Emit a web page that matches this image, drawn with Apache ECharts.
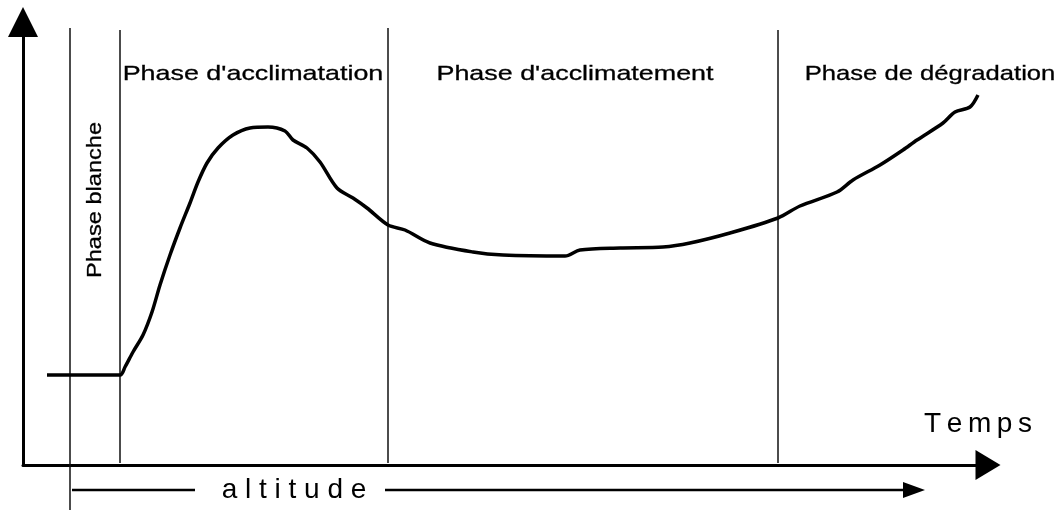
<!DOCTYPE html>
<html>
<head>
<meta charset="utf-8">
<script src="https://cdn.jsdelivr.net/npm/echarts@6/dist/echarts.min.js"></script>
<style>
  html, body { margin: 0; padding: 0; background: #fff; }
  #main { width: 1062px; height: 514px; }
</style>
</head>
<body>
<div id="main"></div>
<script>
var myChart = echarts.init(document.getElementById('main'));

// curve (temps, reponse) in schematic units
var curveX = [24, 97, 102, 110, 120, 129, 137, 147, 157, 167, 175, 184, 195, 210, 227, 245, 262, 270, 284, 297, 314, 330, 344, 365,
  382, 407, 450, 480, 542, 557, 597, 640, 667, 707, 755, 777, 814, 830, 857, 880, 894, 920, 932, 947, 955];
var curveY = [90, 90, 98, 113, 130, 153, 180, 210, 237, 262, 283, 302, 317, 330, 337, 338, 334, 325, 317, 303, 277, 267, 257, 240,
  235, 222, 213, 210, 209, 215, 217, 218, 222, 232, 247, 259, 273, 285, 300, 315, 325, 342, 353, 358, 370];

// phase boundaries on the time axis
var phaseBounds = [47, 97, 365, 755];
var phaseTop = [437, 435, 437, 435];
var phaseBottom = [-45, 2, 2, 2];
var phaseNames = ["Phase blanche", "Phase d'acclimatation", "Phase d'acclimatement", "Phase de dégradation"];

// altitude arrow under the time axis
var altitudeLevel = -25;
var altitudeFrom = [49, 362];
var altitudeTo = [172, 902];

var curve = curveX.map(function (x, i) { return [x, curveY[i]]; });

var guides = [];
phaseBounds.forEach(function (x, i) {
  guides.push([x, phaseTop[i], x, phaseBottom[i], 0]);
});
altitudeFrom.forEach(function (x, i) {
  guides.push([x, altitudeLevel, altitudeTo[i], altitudeLevel, i === altitudeFrom.length - 1 ? 2 : 1]);
});

function renderGuide(params, api) {
  var kind = api.value(4);
  var p1 = api.coord([api.value(0), api.value(1)]);
  var p2 = api.coord([api.value(2), api.value(3)]);
  var children = [];
  var end = p2.slice();
  if (kind === 2) end[0] = p2[0] - 18;
  children.push({
    type: 'line',
    shape: { x1: p1[0], y1: p1[1], x2: end[0], y2: end[1] },
    style: { stroke: kind === 0 ? '#111' : '#000', lineWidth: kind === 0 ? 1.5 : 2.5 }
  });
  if (kind === 2) {
    children.push({
      type: 'polygon',
      shape: { points: [[p2[0], p2[1]], [p2[0] - 22, p2[1] - 8], [p2[0] - 22, p2[1] + 8]] },
      style: { fill: '#000' }
    });
  }
  return { type: 'group', children: children };
}

var option = {
  backgroundColor: '#fff',
  animation: false,
  grid: { left: 23, right: 74, top: 22, bottom: 49 },
  xAxis: {
    type: 'value', min: 0, max: 965,
    axisLine: { show: true, symbol: ['none', 'triangle'], symbolSize: [30, 25], lineStyle: { color: '#000', width: 3 } },
    axisTick: { show: false }, axisLabel: { show: false }, splitLine: { show: false }
  },
  yAxis: {
    type: 'value', min: 0, max: 443,
    axisLine: { show: true, symbol: ['none', 'triangle'], symbolSize: [30, 30], lineStyle: { color: '#000', width: 3 } },
    axisTick: { show: false }, axisLabel: { show: false }, splitLine: { show: false }
  },
  series: [
    {
      type: 'custom',
      data: guides,
      renderItem: renderGuide,
      clip: false,
      silent: true,
      z: 1
    },
    {
      type: 'line',
      data: curve,
      showSymbol: false,
      smooth: 0.3,
      clip: false,
      z: 2,
      lineStyle: { color: '#000', width: 3.5 }
    }
  ],
  graphic: [
    { type: 'text', x: 95, y: 200, rotation: Math.PI / 2, scaleX: 1.18,
      style: { text: phaseNames[0], font: '20px "Liberation Sans", Arial', fill: '#000', stroke: '#000', lineWidth: 0.3, align: 'center', verticalAlign: 'middle' } },
    { type: 'text', x: 253, y: 74, scaleX: 1.28,
      style: { text: phaseNames[1], font: '21px "Liberation Sans", Arial', fill: '#000', stroke: '#000', lineWidth: 0.3, align: 'center', verticalAlign: 'middle' } },
    { type: 'text', x: 575, y: 74, scaleX: 1.28,
      style: { text: phaseNames[2], font: '21px "Liberation Sans", Arial', fill: '#000', stroke: '#000', lineWidth: 0.3, align: 'center', verticalAlign: 'middle' } },
    { type: 'text', x: 930, y: 74, scaleX: 1.22,
      style: { text: phaseNames[3], font: '21px "Liberation Sans", Arial', fill: '#000', stroke: '#000', lineWidth: 0.3, align: 'center', verticalAlign: 'middle' } },
    { type: 'text', x: 978, y: 424,
      style: { text: 'T\u2009e\u2009m\u2009p\u2009s', font: '28px "Liberation Sans", Arial', fill: '#000', align: 'center', verticalAlign: 'middle' } },
    { type: 'text', x: 294, y: 490,
      style: { text: 'a l t i t u d e', font: '28px "Liberation Sans", Arial', fill: '#000', align: 'center', verticalAlign: 'middle' } }
  ]
};

myChart.setOption(option);
</script>
</body>
</html>
